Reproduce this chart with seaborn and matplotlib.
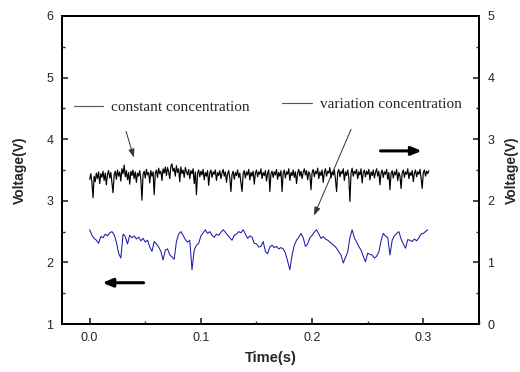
import numpy as np
import matplotlib
matplotlib.use("Agg")
import matplotlib.pyplot as plt
import seaborn as sns
from matplotlib.ticker import MultipleLocator

# blue trace (left axis), sampled every 2 ms
variation = [
    2.53, 2.44, 2.39, 2.36, 2.31, 2.42, 2.40, 2.46, 2.43, 2.48,
    2.50, 2.45, 2.33, 2.15, 2.07, 2.46, 2.42, 2.30, 2.44, 2.40,
    2.43, 2.38, 2.41, 2.35, 2.39, 2.33, 2.36, 2.25, 2.18, 2.34,
    2.30, 2.25, 2.18, 2.04, 2.20, 2.22, 2.12, 2.09, 2.05, 2.34,
    2.46, 2.50, 2.44, 2.37, 2.33, 2.36, 1.88, 2.20, 2.28, 2.31,
    2.43, 2.48, 2.53, 2.47, 2.50, 2.44, 2.41, 2.46, 2.44, 2.49,
    2.53, 2.49, 2.44, 2.40, 2.36, 2.44, 2.46, 2.50, 2.48, 2.53,
    2.46, 2.39, 2.43, 2.41, 2.31, 2.30, 2.25, 2.26, 2.34, 2.18,
    2.14, 2.25, 2.28, 2.24, 2.26, 2.22, 2.24, 2.22, 2.15, 2.02,
    1.88, 2.12, 2.28, 2.36, 2.41, 2.47, 2.40, 2.26, 2.30, 2.40,
    2.44, 2.49, 2.53, 2.46, 2.39, 2.42, 2.38, 2.36, 2.33, 2.30,
    2.27, 2.23, 2.17, 2.12, 1.99, 2.08, 2.17, 2.40, 2.53, 2.40,
    2.33, 2.26, 2.20, 2.10, 2.01, 2.15, 2.13, 2.12, 2.07, 2.10,
    2.17, 2.35, 2.47, 2.43, 2.40, 2.12, 2.36, 2.43, 2.47, 2.50,
    2.38, 2.30, 2.23, 2.37, 2.36, 2.34, 2.38, 2.35, 2.40, 2.46,
    2.47, 2.50, 2.53,
]

# black trace (right axis), sampled every 1 ms
constant = [
    2.35, 2.44, 2.30, 2.05, 2.40, 2.31, 2.45, 2.36, 2.47, 2.28,
    2.44, 2.38, 2.48, 2.33, 2.45, 2.26, 2.43, 2.49, 2.37, 2.46,
    2.30, 2.13, 2.42, 2.48, 2.35, 2.50, 2.40, 2.47, 2.32, 2.52,
    2.44, 2.58, 2.39, 2.49, 2.34, 2.46, 2.27, 2.48, 2.41, 2.50,
    2.36, 2.47, 2.30, 2.45, 2.40, 2.49, 2.35, 2.01, 2.43, 2.48,
    2.37, 2.51, 2.42, 2.46, 2.29, 2.49, 2.40, 2.47, 2.10, 2.45,
    2.50, 2.38, 2.53, 2.44, 2.48, 2.33, 2.52, 2.45, 2.55, 2.41,
    2.54, 2.47, 2.36, 2.56, 2.60, 2.48, 2.53, 2.40, 2.57, 2.46,
    2.52, 2.31, 2.55, 2.44, 2.50, 2.38, 2.54, 2.47, 2.42, 2.51,
    2.36, 2.49, 2.44, 2.52, 2.28, 2.47, 2.10, 2.45, 2.50, 2.39,
    2.48, 2.42, 2.51, 2.34, 2.46, 2.40, 2.49, 2.25, 2.45, 2.50,
    2.38, 2.47, 2.43, 2.50, 2.33, 2.46, 2.41, 2.49, 2.36, 2.45,
    2.51, 2.40, 2.47, 2.30, 2.44, 2.49, 2.37, 2.15, 2.43, 2.48,
    2.35, 2.46, 2.41, 2.50, 2.38, 2.45, 2.29, 2.15, 2.44, 2.49,
    2.37, 2.47, 2.42, 2.51, 2.34, 2.46, 2.40, 2.48, 2.27, 2.45,
    2.50, 2.39, 2.47, 2.43, 2.52, 2.36, 2.46, 2.41, 2.49, 2.32,
    2.45, 2.50, 2.15, 2.44, 2.48, 2.38, 2.47, 2.42, 2.51, 2.35,
    2.46, 2.40, 2.49, 2.15, 2.45, 2.50, 2.37, 2.47, 2.43, 2.52,
    2.33, 2.46, 2.41, 2.50, 2.38, 2.47, 2.28, 2.45, 2.51, 2.40,
    2.48, 2.36, 2.46, 2.52, 2.42, 2.49, 2.34, 2.47, 2.43, 2.18,
    2.46, 2.51, 2.39, 2.48, 2.44, 2.53, 2.36, 2.47, 2.41, 2.50,
    2.30, 2.46, 2.52, 2.40, 2.48, 2.45, 2.54, 2.37, 2.47, 2.42,
    2.50, 2.35, 2.15, 2.46, 2.51, 2.39, 2.48, 2.44, 2.52, 2.33,
    2.47, 2.41, 2.50, 2.38, 1.99, 2.45, 2.53, 2.40, 2.48, 2.44,
    2.51, 2.36, 2.47, 2.42, 2.52, 2.29, 2.46, 2.50, 2.39, 2.48,
    2.43, 2.51, 2.34, 2.47, 2.41, 2.50, 2.37, 2.46, 2.52, 2.40,
    2.48, 2.26, 2.45, 2.50, 2.38, 2.47, 2.43, 2.51, 2.35, 2.46,
    2.18, 2.44, 2.49, 2.37, 2.47, 2.42, 2.51, 2.33, 2.46, 2.40,
    2.20, 2.45, 2.50, 2.38, 2.47, 2.43, 2.52, 2.36, 2.46, 2.41,
    2.49, 2.31, 2.45, 2.50, 2.39, 2.47, 2.43, 2.51, 2.37, 2.20,
    2.46, 2.50, 2.40, 2.48, 2.44, 2.49,
]

t_var = np.arange(len(variation)) * 0.002
t_const = np.arange(len(constant)) * 0.001

sns.set_style("ticks")
plt.rcParams["font.family"] = ["Liberation Sans", "DejaVu Sans"]

fig = plt.figure(figsize=(5.2, 3.72), dpi=100)
ax = fig.add_axes([0.119, 0.129, 0.802, 0.828])
ax2 = ax.twinx()

sns.lineplot(x=t_var, y=variation, ax=ax, color="#1c1ca8", lw=0.75,
             label="variation concentration", legend=False)
sns.lineplot(x=t_const, y=constant, ax=ax2, color="black", lw=0.85,
             label="constant concentration", legend=False)

ax.set_xlim(-0.025, 0.35)
ax.set_ylim(1, 6)
ax2.set_ylim(0, 5)
ax.xaxis.set_major_locator(MultipleLocator(0.1))
ax.xaxis.set_minor_locator(MultipleLocator(0.05))
ax.yaxis.set_major_locator(MultipleLocator(1))
ax.yaxis.set_minor_locator(MultipleLocator(0.5))
ax2.yaxis.set_major_locator(MultipleLocator(1))
ax2.yaxis.set_minor_locator(MultipleLocator(0.5))
ax.xaxis.set_major_formatter(plt.FormatStrFormatter("%.1f"))

for a in (ax, ax2):
    for s in a.spines.values():
        s.set_linewidth(1.4)
        s.set_visible(True)
        s.set_color("black")
    a.tick_params(which="major", direction="in", length=4, width=1.2,
                  labelsize=9, pad=6)
    a.tick_params(which="minor", direction="in", length=2.5, width=1.0)
ax.tick_params(axis="x", which="both", top=False)

ax.set_xlabel("Time(s)", fontsize=10.5, fontweight="bold", labelpad=5)
ax.set_ylabel("Voltage(V)", fontsize=10, fontweight="bold", labelpad=14)
ax2.set_ylabel("Voltage(V)", fontsize=10, fontweight="bold", labelpad=8)

serif = {"family": "Liberation Serif", "size": 11}
h1, l1 = ax2.get_legend_handles_labels()
h2, l2 = ax.get_legend_handles_labels()
leg1 = ax2.legend(h1, l1, loc="center left", bbox_to_anchor=(-0.004, 0.703),
                  frameon=False, prop=serif, handlelength=1.9, handletextpad=0.55)
for ln in leg1.get_lines():
    ln.set_color("#555555")
    ln.set_linewidth(0.8)
leg2 = ax.legend(h2, l2, loc="center left", bbox_to_anchor=(0.496, 0.713),
                 frameon=False, prop=serif, handlelength=1.9, handletextpad=0.55)
for ln in leg2.get_lines():
    ln.set_color("#555555")
    ln.set_linewidth(0.8)

thin = dict(arrowstyle="-|>,head_length=0.5,head_width=0.18", color="#333333", lw=0.7)
ax.annotate("", xy=(0.0405, 3.66), xytext=(0.032, 4.17), arrowprops=thin)
ax.annotate("", xy=(0.2007, 2.72), xytext=(0.236, 4.20), arrowprops=thin)

bold = dict(arrowstyle="-|>,head_length=0.6,head_width=0.25", color="black", lw=2.2)
ax.annotate("", xy=(0.301, 3.81), xytext=(0.259, 3.81), arrowprops=bold)
ax.annotate("", xy=(0.009, 1.67), xytext=(0.051, 1.67), arrowprops=bold)

fig.savefig("out.png", dpi=100)
print("saved out.png")
